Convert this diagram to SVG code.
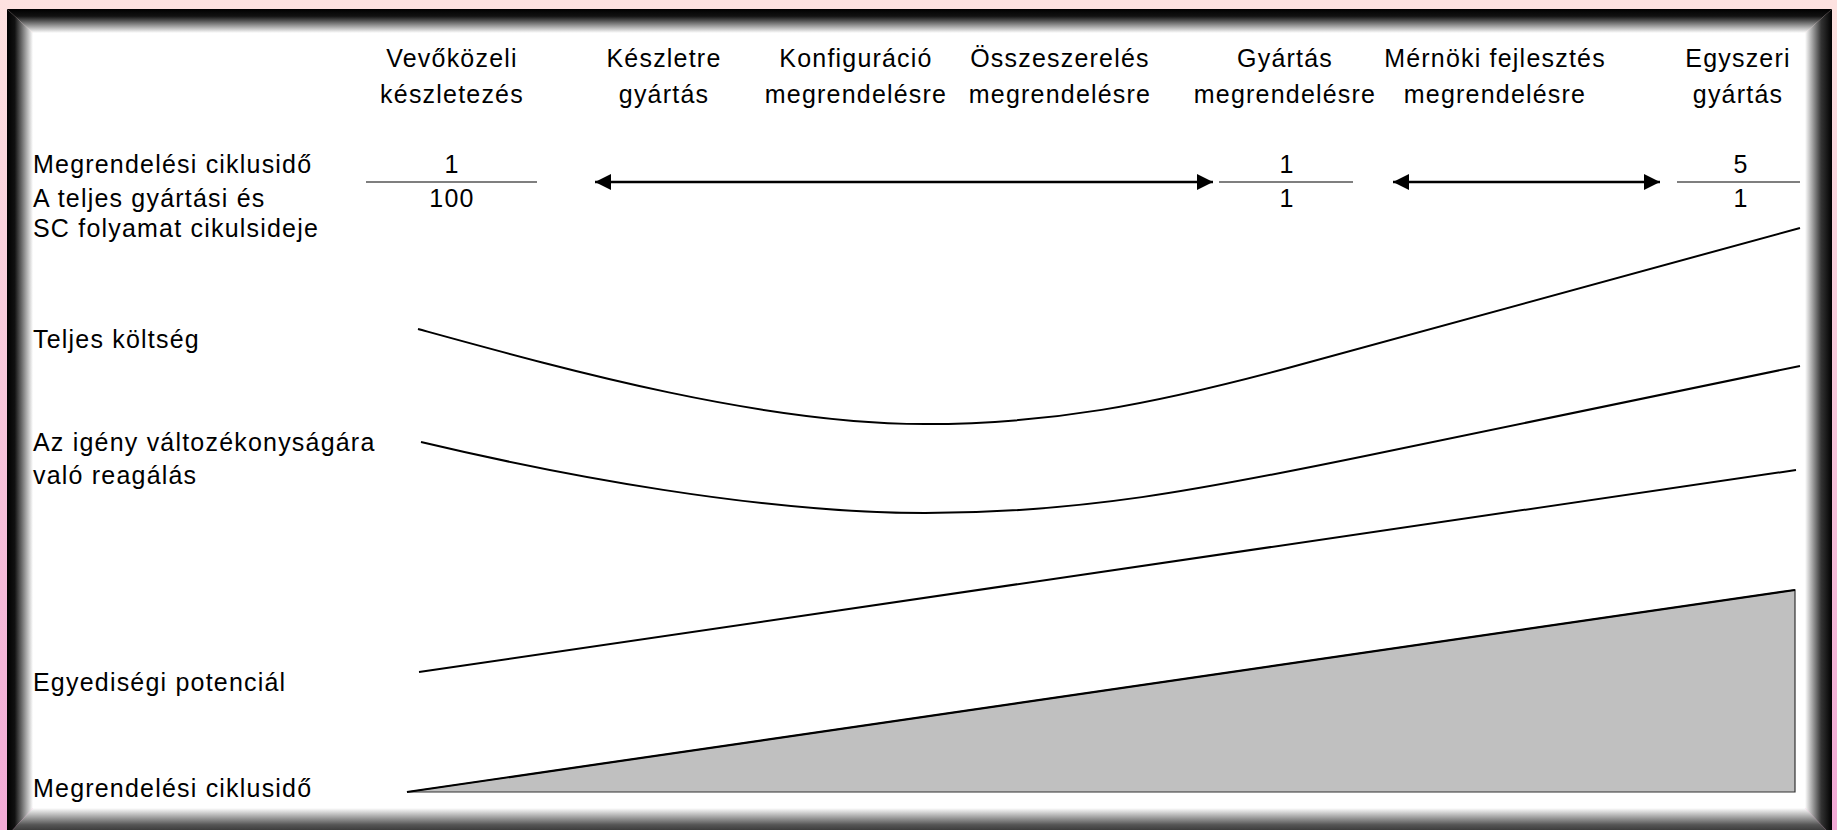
<svg xmlns="http://www.w3.org/2000/svg" width="1837" height="830" viewBox="0 0 1837 830">
<defs>
<linearGradient id="bg" x1="0" y1="0" x2="0" y2="1"><stop offset="0" stop-color="#fde2e0"/><stop offset="1" stop-color="#f2aad6"/></linearGradient>
<linearGradient id="gTop" x1="0" y1="9" x2="0" y2="33" gradientUnits="userSpaceOnUse"><stop offset="0" stop-color="#000"/><stop offset="0.3" stop-color="#111"/><stop offset="1" stop-color="#fff"/></linearGradient>
<linearGradient id="gLeft" x1="7" y1="0" x2="33" y2="0" gradientUnits="userSpaceOnUse"><stop offset="0" stop-color="#000"/><stop offset="0.3" stop-color="#111"/><stop offset="1" stop-color="#fff"/></linearGradient>
<linearGradient id="gRight" x1="1805" y1="0" x2="1832" y2="0" gradientUnits="userSpaceOnUse"><stop offset="0" stop-color="#fff"/><stop offset="0.6" stop-color="#333"/><stop offset="1" stop-color="#000"/></linearGradient>
<linearGradient id="gBottom" x1="0" y1="808" x2="0" y2="836" gradientUnits="userSpaceOnUse"><stop offset="0" stop-color="#fff"/><stop offset="0.6" stop-color="#555"/><stop offset="1" stop-color="#222"/></linearGradient>
<marker id="ah" viewBox="0 0 16 16" refX="16" refY="8" markerWidth="16" markerHeight="16" markerUnits="userSpaceOnUse" orient="auto-start-reverse"><path d="M0,0 L16,8 L0,16 Z" fill="#000"/></marker>
<style>
text{font-family:"Liberation Sans",Arial,sans-serif;font-size:25px;letter-spacing:1.2px;fill:#000}
.c{text-anchor:middle}
.curve{fill:none;stroke:#000;stroke-width:2}
.frac{stroke:#000;stroke-width:1.2}
.arr{stroke:#000;stroke-width:2.4;fill:none;marker-start:url(#ah);marker-end:url(#ah)}
</style>
</defs>
<rect x="0" y="0" width="1837" height="830" fill="url(#bg)"/>
<g id="frame">
<rect x="33" y="33" width="1772" height="775" fill="#fff"/>
<polygon points="7,9 1832,9 1805,33 33,33" fill="url(#gTop)"/>
<polygon points="7,9 33,33 33,808 7,836" fill="url(#gLeft)"/>
<polygon points="1832,9 1805,33 1805,808 1832,836" fill="url(#gRight)"/>
<polygon points="33,808 1805,808 1832,836 7,836" fill="url(#gBottom)"/>
</g>
<g id="headers">
<g id="h1"><text class="c" x="452" y="67">Vevőközeli</text><text class="c" x="452" y="103">készletezés</text></g>
<g id="h2"><text class="c" x="664" y="67">Készletre</text><text class="c" x="664" y="103">gyártás</text></g>
<g id="h3"><text class="c" x="856" y="67">Konfiguráció</text><text class="c" x="856" y="103">megrendelésre</text></g>
<g id="h4"><text class="c" x="1060" y="67">Összeszerelés</text><text class="c" x="1060" y="103">megrendelésre</text></g>
<g id="h5"><text class="c" x="1285" y="67">Gyártás</text><text class="c" x="1285" y="103">megrendelésre</text></g>
<g id="h6"><text class="c" x="1495" y="67">Mérnöki fejlesztés</text><text class="c" x="1495" y="103">megrendelésre</text></g>
<g id="h7"><text class="c" x="1738" y="67">Egyszeri</text><text class="c" x="1738" y="103">gyártás</text></g>
</g>
<g id="rowlabels">
<g id="l1"><text x="33" y="173">Megrendelési ciklusidő</text><text x="33" y="207">A teljes gyártási és</text><text x="33" y="237">SC folyamat cikulsideje</text></g>
<g id="l2"><text x="33" y="348">Teljes költség</text></g>
<g id="l3"><text x="33" y="451">Az igény változékonyságára</text><text x="33" y="484">való reagálás</text></g>
<g id="l4"><text x="33" y="691">Egyediségi potenciál</text></g>
<g id="l5"><text x="33" y="797">Megrendelési ciklusidő</text></g>
</g>
<g id="fractions">
<g id="f1"><text class="c" x="452" y="173">1</text><line class="frac" x1="366" y1="182" x2="537" y2="182"/><text class="c" x="452" y="207">100</text></g>
<g id="f2"><text class="c" x="1287" y="173">1</text><line class="frac" x1="1219" y1="182" x2="1353" y2="182"/><text class="c" x="1287" y="207">1</text></g>
<g id="f3"><text class="c" x="1741" y="173">5</text><line class="frac" x1="1677" y1="182" x2="1800" y2="182"/><text class="c" x="1741" y="207">1</text></g>
</g>
<g id="connectors">
<path class="arr" d="M595,182 L1213,182"/>
<path class="arr" d="M1393,182 L1660,182"/>
</g>
<g id="curves">
<path id="cost" class="curve" d="M418,329 C560,368 760,424 925,424 C1050,424 1150,405 1288,368 L1800,228"/>
<path id="response" class="curve" d="M421,442 C560,475 760,513 925,513 C1080,513 1200,490 1370,455 L1800,366"/>
<path id="custom" class="curve" d="M419,672 L1796,470"/>
<g id="leadtime">
<polygon points="407,792 1795,590 1795,792" fill="#c0c0c0" stroke="#333" stroke-width="1.2"/>
<line x1="407" y1="792" x2="1795" y2="590" stroke="#000" stroke-width="2.2"/>
</g>
</g>
</svg>
